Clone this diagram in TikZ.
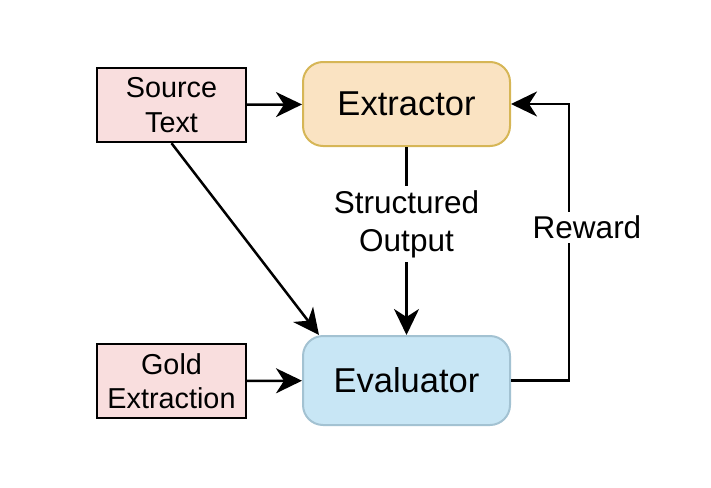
\documentclass[tikz,border=0pt]{standalone}
\usepackage{fontspec}
\setmainfont{Liberation Sans}
\usetikzlibrary{arrows.meta,calc}
\definecolor{pinkfill}{HTML}{F9DEDE}
\definecolor{extfill}{HTML}{FAE3C2}
\definecolor{extline}{HTML}{D6B656}
\definecolor{evalfill}{HTML}{C8E6F5}
\definecolor{evalline}{HTML}{A3C2D2}
\begin{document}
\begin{tikzpicture}[x=1pt,y=-1pt,
  every node/.style={font=\fontsize{28.8pt}{34.5pt}\selectfont, align=center},
  inbox/.style={draw=black, line width=2.4pt, fill=pinkfill, minimum width=149pt, minimum height=74pt, inner sep=0pt},
  mainbox/.style={rounded corners=20pt, line width=2pt, minimum width=207pt, inner sep=0pt, font=\fontsize{34.5pt}{40pt}\selectfont},
  lbl/.style={fill=white, inner sep=4pt, font=\fontsize{31.5pt}{38pt}\selectfont},
  arr/.style={-{Stealth[length=26pt,width=25pt,inset=8pt]}, line width=2.5pt}]
\useasboundingbox (0,0) rectangle (711,487);
\node[inbox] (source) at (171.5,105) {Source\\Text};
\node[inbox] (gold) at (171.5,381) {Gold\\Extraction};
\node[mainbox, draw=extline, fill=extfill, minimum height=84pt] (extractor) at (406.5,104) {Extractor};
\node[mainbox, draw=evalline, fill=evalfill, minimum height=89pt] (evaluator) at (406.5,380.5) {Evaluator};
\coordinate (diagtip) at ($(evaluator.north west)+(17,0)$);
\draw[arr] (source) -- (extractor);
\draw[arr] (gold) -- (evaluator);
\draw[arr] (source.south) -- (diagtip);
\draw[arr] (extractor.south) -- node[lbl, pos=0.41] {Structured\\Output} (evaluator.north);
\draw[arr] (evaluator.east) -- ++(58,0) |- node[lbl, pos=0.277, xshift=18pt] {Reward} (extractor.east);
\end{tikzpicture}
\end{document}
